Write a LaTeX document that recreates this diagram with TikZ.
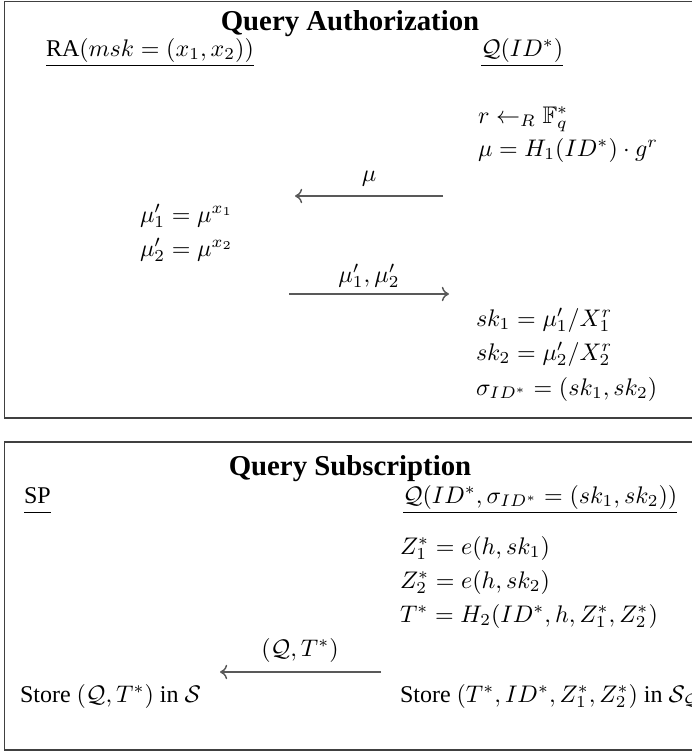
\documentclass[tikz,border=0pt]{standalone}
\usepackage{amsmath,amssymb}
\usepackage{fontspec}
\setmainfont{Liberation Serif}
\usetikzlibrary{arrows.meta}
\begin{document}
\begin{tikzpicture}[x=0.4167pt,y=-0.4167pt,
  txt/.style={anchor=base west,inner sep=0pt,outer sep=0pt},
  ttl/.style={anchor=base,inner sep=0pt,font=\large\bfseries},
  lbl/.style={anchor=base,inner sep=0pt},
  frame/.style={draw=black!75,line width=0.6pt},
  msg/.style={draw=black!65,line width=0.6pt,-{To[length=3pt,width=6pt]}}]
\useasboundingbox (0,0) rectangle (691,752);
% ---------- Query Authorization ----------
\draw[frame] (4.5,1.5) rectangle (720,418);
\node[ttl] (t1) at (350,30) {Query Authorization};
\node[txt] (ra) at (46,56) {$\underline{\text{RA}(msk=(x_1,x_2))}$};
\node[txt] (q1) at (481,56) {$\underline{\mathcal{Q}(ID^*)}$};
\node[txt] (r) at (478,123) {$r \leftarrow_R \mathbb{F}_q^*$};
\node[txt] (mu) at (478,156) {$\mu = H_1(ID^*)\cdot g^r$};
\coordinate (a1s) at (443,196);
\coordinate (a1e) at (295,196);
\draw[msg] (a1s) -- (a1e);
\node[lbl] (l1) at (369,181) {$\mu$};
\node[txt] (m1) at (140,222) {$\mu_1' = \mu^{x_1}$};
\node[txt] (m2) at (140,256) {$\mu_2' = \mu^{x_2}$};
\coordinate (a2s) at (289,294);
\coordinate (a2e) at (449,294);
\draw[msg] (a2s) -- (a2e);
\node[lbl] (l2) at (369,282) {$\mu_1',\mu_2'$};
\node[txt] (sk1) at (476,326) {$sk_1 = \mu_1'/X_1^r$};
\node[txt] (sk2) at (476,360) {$sk_2 = \mu_2'/X_2^r$};
\node[txt] (sig) at (476,395) {$\sigma_{ID^*} = (sk_1,sk_2)$};
% ---------- Query Subscription ----------
\draw[frame] (4.5,442) rectangle (720,750);
\node[ttl] (t2) at (350,475) {Query Subscription};
\node[txt] (sp) at (24,503) {$\underline{\vphantom{()}\text{SP}}$};
\node[txt] (q2) at (403,503) {$\underline{\mathcal{Q}(ID^*,\sigma_{ID^*}=(sk_1,sk_2))}$};
\node[txt] (z1) at (400,554) {$Z_1^* = e(h,sk_1)$};
\node[txt] (z2) at (400,588) {$Z_2^* = e(h,sk_2)$};
\node[txt] (tt) at (400,622) {$T^* = H_2(ID^*,h,Z_1^*,Z_2^*)$};
\coordinate (a3s) at (381,672);
\coordinate (a3e) at (220,672);
\draw[msg] (a3s) -- (a3e);
\node[lbl] (l3) at (300,656) {$(\mathcal{Q},T^*)$};
\node[txt] (st1) at (20,702) {Store $(\mathcal{Q},T^*)$ in $\mathcal{S}$};
\node[txt] (st2) at (400,702) {Store $(T^*,ID^*,Z_1^*,Z_2^*)$ in $\mathcal{S}_{\mathcal{Q}}$};
\end{tikzpicture}
\end{document}
